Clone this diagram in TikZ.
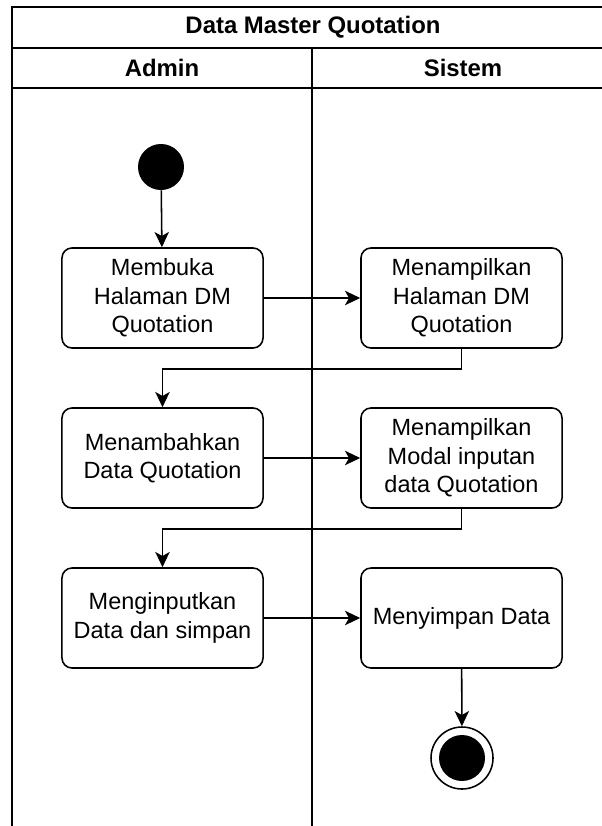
\documentclass[tikz,border=0pt]{standalone}
\usepackage{fontspec}
\setmainfont{Liberation Sans}
\usetikzlibrary{arrows.meta,positioning,calc}

\begin{document}
\begin{tikzpicture}[
		x=0.025cm, y=-0.025cm,
		action/.style={rectangle, rounded corners=0.25cm, draw, line width=1.1pt, minimum width=5.025cm, minimum height=2.5cm, align=center, inner sep=2pt, font=\fontsize{16.7}{20.3}\selectfont},
		startnode/.style={circle, fill=black, minimum size=1.15cm, inner sep=0pt},
		endnode/.style={circle, draw, line width=1.1pt, fill=white, minimum size=1.55cm, inner sep=0pt},
		lane/.style={line width=1.1pt},
		header/.style={font=\bfseries\fontsize{17}{20}\selectfont},
		flow/.style={-{Stealth[length=0.38cm, width=0.36cm, inset=0.1cm]}, line width=1.1pt}
		]
	
		\useasboundingbox (0,0) rectangle (602,826);
	
		% --- Swimlanes ---
		\draw[lane] (12,826) -- (12,7) -- (603,7);
		\draw[lane] (12,48) -- (603,48);
		\draw[lane] (12,88) -- (603,88);
		\draw[lane] (312,48) -- (312,826);
	
		\node[header] (title) at (313,27) {Data Master Quotation};
		\node[header] (admin) at (162,68) {Admin};
		\node[header] (sistem) at (463,68) {Sistem};
	
		% --- Aktivitas ---
		\node[startnode] (start) at (161,167) {};
		\node[action] (buka) at (162.5,298) {Membuka\\Halaman DM\\Quotation};
		\node[action] (tampil) at (461.5,298) {Menampilkan\\Halaman DM\\Quotation};
		\node[action] (tambah) at (162.5,458) {Menambahkan\\Data Quotation};
		\node[action] (modal) at (461.5,458) {Menampilkan\\Modal inputan\\data Quotation};
		\node[action] (input) at (162.5,618) {Menginputkan\\Data dan simpan};
		\node[action] (simpan) at (461.5,618) {Menyimpan Data};
		\node[endnode] (stop) at (462,758) {};
		\node[startnode] (stopdot) at (stop.center) {};
	
		% --- Alur ---
		\draw[flow] (start) -- (buka);
		\draw[flow] (buka) -- (tampil);
		\draw[flow] (tampil.south) -- ++(0,20) -| (tambah.north);
		\draw[flow] (tambah) -- (modal);
		\draw[flow] (modal.south) -- ++(0,20) -| (input.north);
		\draw[flow] (input) -- (simpan);
		\draw[flow] (simpan) -- (stop);
	
	\end{tikzpicture}
\end{document}
